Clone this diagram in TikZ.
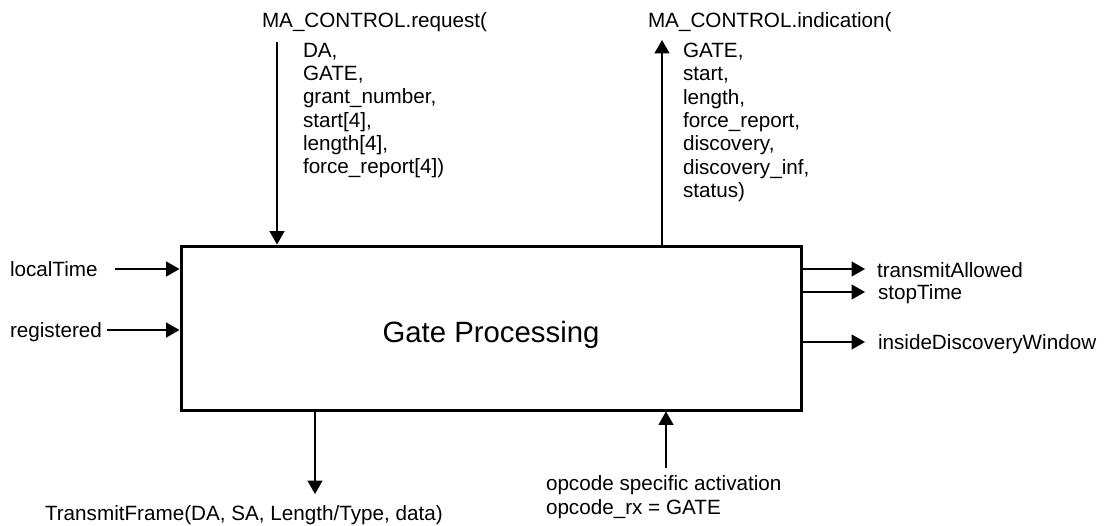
\documentclass[tikz,border=0pt]{standalone}
\usepackage{fontspec}
\setmainfont{Liberation Sans}
\usetikzlibrary{arrows.meta}
\tikzstyle{every node}=[inner sep=0pt, outer sep=0pt, font=\fontsize{15.5}{17.5}\selectfont]
\tikzstyle{sig}=[line width=1.5pt, -{Triangle[length=10pt, width=11pt]}]
\tikzstyle{procbox}=[draw, line width=2.25pt, outer sep=1.1pt, minimum width=465pt, minimum height=123pt, text height=21.5pt, text depth=0pt, font=\fontsize{22}{26}\selectfont]

\begin{document}
\begin{tikzpicture}[x=0.75pt, y=-0.75pt]
    \useasboundingbox (0,0) rectangle (1112,525);
% Process
    \node[procbox] (gate) at (491,328) {Gate Processing};
% Service primitives
    \node[anchor=base west] (req) at (262,27) {MA\_CONTROL.request(};
    \node[anchor=north west, align=left] (reqargs) at (303,43) {DA,\\GATE,\\grant\_number,\\start[4],\\length[4],\\force\_report[4])};
    \node[anchor=base west] (ind) at (648,27) {MA\_CONTROL.indication(};
    \node[anchor=north west, align=left] (indargs) at (683,43) {GATE,\\start,\\length,\\force\_report,\\discovery,\\discovery\_inf,\\status)};
    \coordinate (reqin) at (277,42);
    \coordinate (indout) at (662,40);
    \draw[sig] (reqin) -- (reqin |- gate.north);
    \draw[sig] (indout |- gate.north) -- (indout);
% Inputs
    \node[anchor=base west] (lt) at (10,276) {localTime};
    \node[anchor=base west] (reg) at (10,337) {registered};
    \coordinate (ltin) at (115,269);
    \coordinate (regin) at (107,330);
    \draw[sig] (ltin) -- (ltin -| gate.west);
    \draw[sig] (regin) -- (regin -| gate.west);
% Outputs
    \node[anchor=base west] (ta) at (877,277) {transmitAllowed};
    \node[anchor=base west] (st) at (878,299) {stopTime};
    \node[anchor=base west] (idw) at (878,349) {insideDiscoveryWindow};
    \coordinate (taout) at (865,269);
    \coordinate (stout) at (865,292);
    \coordinate (idwout) at (865,342);
    \draw[sig] (taout -| gate.east) -- (taout);
    \draw[sig] (stout -| gate.east) -- (stout);
    \draw[sig] (idwout -| gate.east) -- (idwout);
% Frame out, opcode activation in
    \node[anchor=base west] (tf) at (45,520) {TransmitFrame(DA, SA, Length/Type, data)};
    \coordinate (tfout) at (315,494);
    \draw[sig] (tfout |- gate.south) -- (tfout);
    \node[anchor=north west, align=left] (opc) at (546,476) {opcode specific activation\\opcode\_rx = GATE};
    \coordinate (opcin) at (666,468);
    \draw[sig] (opcin) -- (opcin |- gate.south);
\end{tikzpicture}
\end{document}
